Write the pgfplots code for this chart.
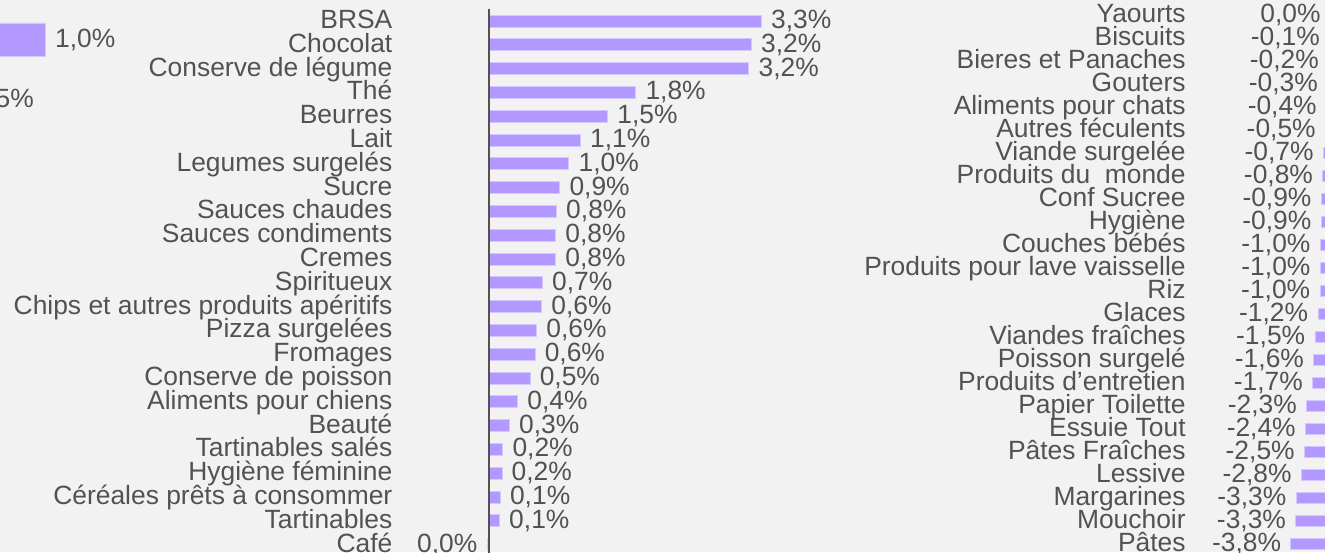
\documentclass[border=0pt]{standalone}
\usepackage{fontspec}
\setmainfont{Liberation Sans}
\usepackage{pgfplots}
\usepackage{pgfplotstable}
\pgfplotsset{compat=1.18}
\definecolor{bgc}{HTML}{F2F2F2}
\definecolor{barc}{HTML}{B399FF}
\definecolor{txtc}{HTML}{525252}
\newcommand\lab{\fontsize{13.2}{15}\selectfont}

% categories that rose (row, change in %, printed label)
\pgfplotstableread{
y x lab
0 3.30 3,3
1 3.18 3,2
2 3.15 3,2
3 1.78 1,8
4 1.44 1,5
5 1.11 1,1
6 0.97 1,0
7 0.86 0,9
8 0.82 0,8
9 0.81 0,8
10 0.81 0,8
11 0.65 0,7
12 0.64 0,6
13 0.58 0,6
14 0.56 0,6
15 0.50 0,5
16 0.35 0,4
17 0.25 0,3
18 0.17 0,2
19 0.16 0,2
20 0.14 0,1
21 0.13 0,1
}\gains
% Café: a hair below zero, so its label sits left of the axis
\pgfplotstableread{
y x lab
22 -0.02 0,0
}\flat

% categories that fell
\pgfplotstableread{
y x lab
0 -0.04 0,0
1 -0.10 -0,1
2 -0.20 -0,2
3 -0.30 -0,3
4 -0.40 -0,4
5 -0.50 -0,5
6 -0.70 -0,7
7 -0.76 -0,8
8 -0.90 -0,9
9 -0.92 -0,9
10 -1.00 -1,0
11 -1.00 -1,0
12 -1.02 -1,0
13 -1.22 -1,2
14 -1.50 -1,5
15 -1.62 -1,6
16 -1.72 -1,7
17 -2.30 -2,3
18 -2.40 -2,4
19 -2.50 -2,5
20 -2.80 -2,8
21 -3.30 -3,3
22 -3.33 -3,3
23 -3.80 -3,8
}\losses

% piece of a neighbouring chart, cut off at the left edge
\pgfplotstableread{
y x lab
0 1.0 1,0
1 0.5 0,5
}\fragment

\pgfplotsset{
  panel/.style={
    scale only axis, clip=false, y dir=reverse, axis on top,
    xbar, point meta=explicit symbolic,
    nodes near coords={\pgfplotspointmeta\%},
    major tick length=0pt,
    yticklabel style={font=\lab, text=txtc, anchor=base east, inner sep=0pt},
  },
  bars/.style={fill=barc, draw=barc!55!white, line width=0.4pt, bar shift=0pt,
    every node near coord/.append style={font=\lab, text=txtc,
      inner xsep=4.7pt, inner ysep=0pt, anchor=#1}},
}

\begin{document}
\begin{tikzpicture}[font=\lab]
\path[use as bounding box] (0,0) rectangle (662.5pt,276pt);
\fill[bgc] (0,0) rectangle (662.5pt,276pt);
\clip (0,0) rectangle (662.5pt,276pt);

\begin{axis}[panel, hide axis,
  at={(-58.85pt,211.25pt)}, anchor=south west,
  width=97.8pt, height=60pt,
  xmin=0, xmax=1.2, ymin=-0.5, ymax=1.5,
  bar width=16.5pt]
\addplot[bars=west] table[x=x, y=y, meta=lab] {\fragment};
\end{axis}

\begin{axis}[panel,
  at={(244.35pt,-2.25pt)}, anchor=south west,
  width=165.2pt, height=273.7pt,
  xmin=0, xmax=4, ymin=-0.5, ymax=22.5,
  bar width=6pt,
  hide x axis, axis y line*=left,
  axis line style={draw=txtc, line width=0.8pt},
  ytick={0,...,22},
  yticklabels={BRSA, Chocolat, Conserve de légume, Thé, Beurres, Lait,
    Legumes surgelés, Sucre, Sauces chaudes, Sauces condiments, Cremes,
    Spiritueux, Chips et autres produits apéritifs, Pizza surgelées,
    Fromages, Conserve de poisson, Aliments pour chiens, Beauté,
    Tartinables salés, Hygiène féminine, Céréales prêts à consommer,
    Tartinables, Café},
  yticklabel style={xshift=-48pt, yshift=-3.7pt}]
\addplot[bars=west] table[x=x, y=y, meta=lab] {\gains};
\addplot[bars=east] table[x=x, y=y, meta=lab] {\flat};
\end{axis}

\begin{axis}[panel,
  at={(593pt,-1.7pt)}, anchor=south west,
  width=72.35pt, height=276.1pt,
  xmin=-13.78, xmax=0, ymin=-0.5, ymax=23.5,
  bar width=5.5pt,
  hide x axis, axis y line*=left,
  axis line style={draw=none},
  ytick={0,...,23},
  yticklabels={Yaourts, Biscuits, Bieres et Panaches, Gouters,
    Aliments pour chats, Autres féculents, Viande surgelée,
    Produits du~ monde, Conf Sucree, Hygiène, Couches bébés,
    Produits pour lave vaisselle, Riz, Glaces, Viandes fraîches,
    Poisson surgelé, Produits d’entretien, Papier Toilette, Essuie Tout,
    Pâtes Fraîches, Lessive, Margarines, Mouchoir, Pâtes},
  yticklabel style={yshift=-4pt}]
\addplot[bars=east] table[x=x, y=y, meta=lab] {\losses};
\end{axis}
\end{tikzpicture}
\end{document}
